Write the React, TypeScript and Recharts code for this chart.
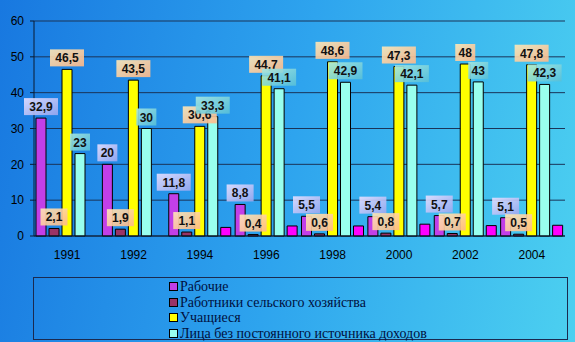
import React from 'react';
import { BarChart, Bar, XAxis, YAxis, CartesianGrid, LabelList } from 'recharts';

const years = ['1991', '1992', '1994', '1996', '1998', '2000', '2002', '2004'];
const workers = [32.9, 20, 11.8, 8.8, 5.5, 5.4, 5.7, 5.1];
const farmWorkers = [2.1, 1.9, 1.1, 0.4, 0.6, 0.8, 0.7, 0.5];
const students = [46.5, 43.5, 30.6, 44.7, 48.6, 47.3, 48, 47.8];
const noIncome = [23, 30, 33.3, 41.1, 42.9, 42.1, 43, 42.3];
const other = [null, null, 2.4, 2.8, 2.8, 3.3, 2.9, 3.0];

const yTicks = [0, 10, 20, 30, 40, 50, 60];

const SERIES = [
  { key: 'workers', name: 'Рабочие', color: '#C23FE8', label: 'lblPurple' },
  { key: 'farmWorkers', name: 'Работники сельского хозяйства', color: '#993366', label: 'lblPeach' },
  { key: 'students', name: 'Учащиеся', color: '#FFFF00', label: 'lblPeach' },
  { key: 'noIncome', name: 'Лица без постоянного источника доходов', color: '#99FFEE', label: 'lblTeal' },
];

const data = years.map((year, i) => ({
  year,
  workers: workers[i],
  farmWorkers: farmWorkers[i],
  students: students[i],
  noIncome: noIncome[i],
  other: other[i],
}));

const fmt = (v: number) => String(v).replace('.', ',');

const makeLabel = (gradId: string) => (props: any) => {
  const { x, y, width, value } = props;
  if (value == null) return null;
  const text = fmt(value);
  const w = text.length * 7 + 6;
  const cx = x + width / 2;
  return (
    <g>
      <rect x={cx - w / 2} y={y - 20} width={w} height={17} fill={`url(#${gradId})`} fillOpacity={0.9} />
      <text x={cx} y={y - 7} textAnchor="middle" fontSize={12} fontWeight="bold"
            fontFamily="Arial, 'Liberation Sans', sans-serif" fill="#111">{text}</text>
    </g>
  );
};

// legend drawn outside the chart so it doesn't eat plot height
const LegendBox = () => (
  <div style={{ position: 'absolute', left: 33, top: 277, border: '1px solid #1a2a50', width: 535, height: 63,
                boxSizing: 'border-box', paddingTop: 1 }}>
    {SERIES.map(s => (
      <div key={s.key} style={{ display: 'flex', alignItems: 'center', marginLeft: 135, height: 15.5 }}>
        <span style={{ width: 7, height: 7, background: s.color, border: '1px solid #000', marginRight: 2 }} />
        <span style={{ fontFamily: "'Liberation Serif', 'Times New Roman', serif", fontSize: 14, color: '#001040', lineHeight: '15px' }}>
          {s.name}
        </span>
      </div>
    ))}
  </div>
);

export default function App() {
  return (
    <div style={{ position: 'absolute', left: 0, top: 0, width: 575, height: 342,
                  background: 'linear-gradient(100deg, #1878e0 0%, #2ea4ee 50%, #4cd0f0 100%)' }}>
      <BarChart width={575} height={342} data={data} barSize={10} barGap={3}
                margin={{ top: 21, right: 10, left: 0, bottom: 76 }}>
        <defs>
          <linearGradient id="lblPurple" x1="0" y1="0" x2="1" y2="1">
            <stop offset="0%" stopColor="#e8e0ff" />
            <stop offset="100%" stopColor="#9aa8f0" />
          </linearGradient>
          <linearGradient id="lblPeach" x1="0" y1="0" x2="1" y2="1">
            <stop offset="0%" stopColor="#ffe8b8" />
            <stop offset="100%" stopColor="#ffb888" />
          </linearGradient>
          <linearGradient id="lblTeal" x1="0" y1="0" x2="1" y2="1">
            <stop offset="0%" stopColor="#a8e8e0" />
            <stop offset="100%" stopColor="#58c0d8" />
          </linearGradient>
        </defs>
        <CartesianGrid vertical={false} stroke="#1a3458" strokeWidth={1} />
        <XAxis dataKey="year" tickLine={false} axisLine={{ stroke: '#0a1a30' }} height={30}
               tick={{ fontSize: 12, fill: '#000', fontFamily: 'Arial, sans-serif' }} tickMargin={8} />
        <YAxis domain={[0, 60]} ticks={yTicks} width={34} axisLine={{ stroke: '#0a1a30' }}
               tickLine={{ stroke: '#0a1a30' }} tickSize={4} tickMargin={6}
               tick={{ fontSize: 12, fill: '#000', fontFamily: 'Arial, sans-serif' }} />
        <YAxis yAxisId="right" orientation="right" width={0} tick={false} tickLine={false}
               axisLine={{ stroke: '#7890a0' }} />
        {SERIES.map(s => (
          <Bar key={s.key} dataKey={s.key} name={s.name} fill={s.color} stroke="#000" strokeWidth={1}
               isAnimationActive={false}>
            <LabelList dataKey={s.key} content={makeLabel(s.label)} />
          </Bar>
        ))}
        <Bar dataKey="other" fill="#FF00FF" stroke="#000" strokeWidth={1} legendType="none"
             isAnimationActive={false} />
      </BarChart>
      <LegendBox />
    </div>
  );
}
